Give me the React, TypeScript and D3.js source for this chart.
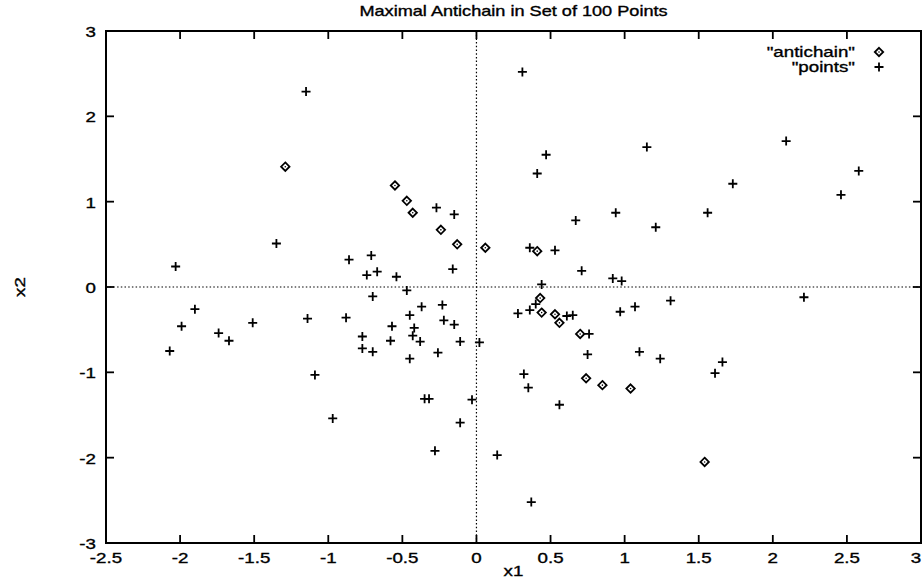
import { useEffect, useRef } from "react";
import * as d3 from "d3";

// tick values
const xTicks = [-2.5, -2, -1.5, -1, -0.5, 0, 0.5, 1, 1.5, 2, 2.5, 3];
const yTicks = [-3, -2, -1, 0, 1, 2, 3];

// "antichain" points (diamonds)
const antichain: [number, number][] = [
  [-1.29, 1.41], [-0.55, 1.19], [-0.47, 1.01], [-0.43, 0.87], [-0.24, 0.67],
  [-0.13, 0.5], [0.06, 0.46], [0.41, 0.42], [0.43, -0.13], [0.44, -0.3],
  [0.53, -0.32], [0.56, -0.42], [0.7, -0.55], [0.74, -1.07], [0.85, -1.15],
  [1.04, -1.19], [1.54, -2.05],
];

// the other "points" (crosses)
const points: [number, number][] = [
  [-1.15, 2.29], [-1.35, 0.51], [-2.03, 0.24], [-0.86, 0.32], [-0.71, 0.37],
  [-0.74, 0.14], [-0.67, 0.18], [-0.7, -0.11], [-1.9, -0.26], [-1.99, -0.46],
  [-2.07, -0.75], [-1.74, -0.54], [-1.67, -0.63], [-1.51, -0.42], [-1.14, -0.37],
  [-0.88, -0.36], [-0.77, -0.58], [-0.77, -0.72], [-0.7, -0.76], [-1.09, -1.03],
  [-0.97, -1.54],
  [0.31, 2.52], [1.15, 1.64], [0.47, 1.55], [0.41, 1.33], [-0.27, 0.93],
  [-0.15, 0.85], [0.94, 0.87], [0.67, 0.78], [0.36, 0.46], [0.53, 0.43],
  [-0.16, 0.21], [-0.54, 0.12], [0.71, 0.19], [0.92, 0.1], [0.98, 0.07],
  [0.44, 0.03], [-0.47, -0.04], [0.4, -0.2], [0.36, -0.27], [0.28, -0.31],
  [0.61, -0.34], [0.65, -0.33], [0.76, -0.55], [0.75, -0.79], [0.97, -0.29],
  [1.07, -0.23], [1.1, -0.76], [0.32, -1.02], [0.35, -1.18], [0.56, -1.38],
  [0.37, -2.52], [0.14, -1.97], [-0.37, -0.23], [-0.23, -0.21], [-0.45, -0.33],
  [-0.57, -0.46], [-0.42, -0.48], [-0.43, -0.57], [-0.58, -0.63], [-0.38, -0.64],
  [-0.22, -0.39], [-0.15, -0.44], [-0.11, -0.64], [0.02, -0.65], [-0.26, -0.77],
  [-0.45, -0.84], [-0.35, -1.31], [-0.32, -1.31], [-0.03, -1.32], [-0.11, -1.59],
  [-0.28, -1.92],
  [2.09, 1.71], [2.58, 1.36], [2.46, 1.08], [1.73, 1.21], [1.56, 0.87],
  [1.21, 0.7], [1.31, -0.16], [2.21, -0.12], [1.24, -0.84], [1.66, -0.88],
  [1.61, -1.01],
];

const plusPath = "M-4.5,0H4.5M0,-4.5V4.5";
const diamondPath = "M0,-4.2L4.2,0L0,4.2L-4.2,0Z";

function App() {
  const svgRef = useRef<SVGSVGElement>(null);

  useEffect(() => {
    const w = 924;
    const h = 581;
    const left = 106, right = 921, top = 31, bottom = 543;
    const font = "'Liberation Sans', Arial, Helvetica, sans-serif";

    const svg = d3.select(svgRef.current)
      .attr("width", w)
      .attr("height", h)
      .style("position", "absolute")
      .style("left", "0px")
      .style("top", "0px")
      .style("background", "#fff");
    svg.selectAll("*").remove();

    const xScale = d3.scaleLinear().domain([-2.5, 3]).range([left, right]);
    const yScale = d3.scaleLinear().domain([-3, 3]).range([bottom, top]);

    // stretched text, like the scanned original
    const label = (tx: number, ty: number, s: string, anchor: string, size = 15, rot = 0) =>
      svg.append("text")
        .attr("transform", `translate(${tx},${ty}) rotate(${rot}) scale(1.25,1)`)
        .attr("text-anchor", anchor)
        .attr("dominant-baseline", "central")
        .style("font-family", font)
        .style("font-size", size + "px")
        .attr("fill", "#000")
        .attr("stroke", "#000")
        .attr("stroke-width", 0.35)
        .text(s);

    // zero axes
    svg.append("line")
      .attr("x1", xScale(0)).attr("x2", xScale(0))
      .attr("y1", top).attr("y2", bottom)
      .attr("stroke", "#000").attr("stroke-width", 1.2)
      .attr("stroke-dasharray", "1.5,2.2");
    svg.append("line")
      .attr("x1", left).attr("x2", right)
      .attr("y1", yScale(0)).attr("y2", yScale(0))
      .attr("stroke", "#000").attr("stroke-width", 1.2)
      .attr("stroke-dasharray", "1.5,2.2");

    // ticks, inward on all four sides
    const tl = 8;
    const ticks = svg.append("g").attr("stroke", "#000").attr("stroke-width", 1.8);
    xTicks.forEach(t => {
      ticks.append("line").attr("x1", xScale(t)).attr("x2", xScale(t)).attr("y1", bottom).attr("y2", bottom - tl);
      ticks.append("line").attr("x1", xScale(t)).attr("x2", xScale(t)).attr("y1", top).attr("y2", top + tl);
      // keep the last label inside the page
      label(Math.min(xScale(t), w - 8), 558, String(t), "middle");
    });
    yTicks.forEach(t => {
      ticks.append("line").attr("x1", left).attr("x2", left + tl).attr("y1", yScale(t)).attr("y2", yScale(t));
      ticks.append("line").attr("x1", right).attr("x2", right - tl).attr("y1", yScale(t)).attr("y2", yScale(t));
      label(96, yScale(t) + 1, String(t), "end");
    });

    // frame
    svg.append("rect")
      .attr("x", left).attr("y", top)
      .attr("width", right - left).attr("height", bottom - top)
      .attr("fill", "none").attr("stroke", "#000").attr("stroke-width", 2);

    // points
    svg.append("g").selectAll("path")
      .data(points)
      .enter()
      .append("path")
        .attr("d", plusPath)
        .attr("transform", d => `translate(${xScale(d[0])},${yScale(d[1])})`)
        .attr("stroke", "#000")
        .attr("stroke-width", 1.8)
        .attr("fill", "none");

    const ac = svg.append("g").selectAll("g")
      .data(antichain)
      .enter()
      .append("g")
        .attr("transform", d => `translate(${xScale(d[0])},${yScale(d[1])})`);
    ac.append("path")
      .attr("d", diamondPath)
      .attr("stroke", "#000")
      .attr("stroke-width", 1.8)
      .attr("fill", "#fff");
    ac.append("circle").attr("r", 0.8).attr("fill", "#000");

    // legend
    label(855, 52, "\"antichain\"", "end");
    label(855, 67, "\"points\"", "end");
    const lg = svg.append("g").attr("transform", `translate(879,52)`);
    lg.append("path").attr("d", diamondPath).attr("stroke", "#000").attr("stroke-width", 1.8).attr("fill", "#fff");
    lg.append("circle").attr("r", 0.8).attr("fill", "#000");
    svg.append("path").attr("d", plusPath).attr("transform", "translate(879,67)")
      .attr("stroke", "#000").attr("stroke-width", 1.8);

    // title and axis names
    label((left + right) / 2, 11, "Maximal Antichain in Set of 100 Points", "middle", 14.5);
    label((left + right) / 2, 571, "x1", "middle");
    label(20, (top + bottom) / 2, "x2", "middle", 15, -90);
  }, []);

  return (
    <div>
      <svg ref={svgRef} />
    </div>
  );
}

export default App;
